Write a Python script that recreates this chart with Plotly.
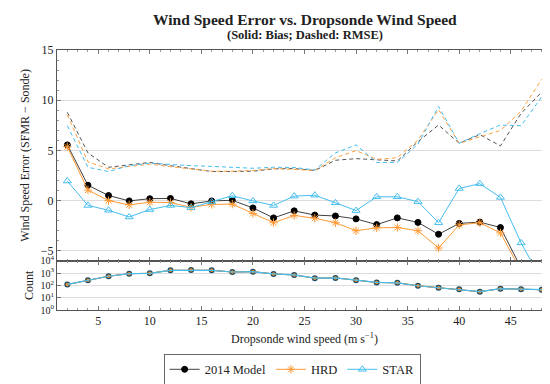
import plotly.graph_objects as go
from plotly.subplots import make_subplots

speed = [2, 4, 6, 8, 10, 12, 14, 16, 18, 20, 22, 24, 26, 28, 30, 32, 34, 36, 38, 40, 42, 44, 46, 48]

bias_model = [5.55, 1.53, 0.51, -0.03, 0.19, 0.22, -0.32, -0.03, 0.03, -0.73, -1.72, -1.02,
              -1.44, -1.53, -1.82, -2.39, -1.72, -2.17, -3.35, -2.27, -2.14, -2.68, -6.7, -9.0]
bias_hrd = [5.36, 1.05, 0.0, -0.42, -0.16, -0.19, -0.67, -0.38, -0.35, -1.28, -2.2, -1.48,
            -1.75, -2.2, -3.0, -2.71, -2.68, -3.0, -4.72, -2.42, -2.2, -3.22, -7.0, -9.5]
bias_star = [1.95, -0.48, -0.96, -1.63, -0.89, -0.48, -0.7, -0.13, 0.48, -0.03, -0.48, 0.45,
             0.54, -0.22, -0.99, 0.38, 0.38, -0.1, -2.2, 1.21, 1.69, 0.32, -4.21, -7.9]

rmse_model = [8.8, 4.75, 3.32, 3.54, 3.8, 3.48, 3.16, 2.9, 2.9, 2.93, 3.16, 3.19,
              3.0, 4.02, 4.18, 4.08, 3.95, 5.87, 7.53, 5.71, 6.57, 5.45, 8.68, 10.81]
rmse_hrd = [8.55, 3.86, 3.16, 3.38, 3.64, 3.38, 3.16, 2.93, 2.93, 3.0, 3.2, 3.1,
            3.0, 4.27, 4.98, 4.11, 4.27, 6.03, 9.06, 5.71, 6.35, 6.99, 8.9, 12.09]
rmse_star = [7.46, 3.32, 2.9, 3.48, 3.73, 3.57, 3.48, 3.41, 3.32, 3.22, 3.32, 3.3,
             3.06, 4.75, 5.55, 3.8, 3.8, 5.62, 9.38, 5.71, 6.67, 7.53, 7.46, 10.33]

count = [120, 270, 560, 910, 970, 1700, 1800, 1700, 1240, 1320, 860, 710,
         390, 410, 270, 174, 164, 94, 65, 48, 31, 54, 48, 45]

names = ["2014 Model", "HRD", "STAR"]
colors = ["#000000", "#ff9a35", "#45bdee"]
line_colors = ["#404040", "#ff9a35", "#45bdee"]
rmse_colors = ["#555555", "#ffa040", "#45bdee"]
symbols = ["circle", "asterisk-open", "triangle-up-open"]
msizes = [6, 7, 7]

FONT = "Liberation Serif"
TXT = "#222222"

fig = make_subplots(rows=2, cols=1, shared_xaxes=True, vertical_spacing=0.0,
                    row_heights=[0.811, 0.189])

for nm, b, r, c, lc, rc, s, ms in zip(names, [bias_model, bias_hrd, bias_star],
                                       [rmse_model, rmse_hrd, rmse_star],
                                       colors, line_colors, rmse_colors, symbols, msizes):
    fig.add_trace(go.Scatter(x=speed, y=r, mode="lines", showlegend=False,
                             line=dict(color=rc, width=1, dash="4px,3px")), row=1, col=1)
    fig.add_trace(go.Scatter(x=speed, y=b, mode="lines+markers", name=nm,
                             line=dict(color=lc, width=1),
                             marker=dict(symbol=s, size=ms, color=c,
                                         line=dict(color=c, width=1))), row=1, col=1)

fig.add_trace(go.Scatter(x=speed, y=count, mode="lines+markers", showlegend=False,
                         line=dict(color="#404040", width=1),
                         marker=dict(symbol="circle", size=6, color="#1d4d66")), row=2, col=1)
fig.add_trace(go.Scatter(x=speed, y=count, mode="lines+markers", showlegend=False,
                         line=dict(color="#ff9a35", width=1),
                         marker=dict(symbol="circle", size=3.5, color="#ff8a20")), row=2, col=1)
fig.add_trace(go.Scatter(x=speed, y=count, mode="lines", showlegend=False,
                         line=dict(color="#45bdee", width=1.2)), row=2, col=1)

axis_common = dict(showline=True, linecolor="#555555", linewidth=1, mirror="ticks",
                   ticks="inside", ticklen=4, tickcolor="#777777", zeroline=False)

fig.update_xaxes(range=[1, 49], tickvals=[5, 10, 15, 20, 25, 30, 35, 40, 45], showgrid=False,
                 tickfont=dict(family=FONT, size=12, color=TXT),
                 minor=dict(dtick=1, tick0=0, ticks="inside", ticklen=2, tickcolor="#999999"),
                 **axis_common)
fig.update_xaxes(showticklabels=False, row=1, col=1)
fig.update_xaxes(title=dict(text="Dropsonde wind speed (m s<sup>−1</sup>)",
                            font=dict(family=FONT, size=12, color=TXT), standoff=7),
                 row=2, col=1)

fig.update_yaxes(range=[-6, 15], tickvals=[-5, 0, 5, 10, 15], showgrid=True,
                 gridcolor="#dddddd", gridwidth=1,
                 tickfont=dict(family=FONT, size=12, color=TXT),
                 minor=dict(dtick=1, tick0=0, ticks="inside", ticklen=2, tickcolor="#999999"),
                 title=dict(text="Wind Speed Error (SFMR − Sonde)",
                            font=dict(family=FONT, size=12, color=TXT), standoff=8),
                 row=1, col=1, **axis_common)
fig.update_yaxes(type="log", range=[0, 4], tickvals=[1, 10, 100, 1000, 10000],
                 ticktext=["10<sup>0</sup>", "10<sup>1</sup>", "10<sup>2</sup>",
                           "10<sup>3</sup>", "10<sup>4</sup>"],
                 tickfont=dict(family=FONT, size=10, color=TXT),
                 showgrid=True, gridcolor="#dddddd",
                 title=dict(text="Count", font=dict(family=FONT, size=12, color=TXT),
                            standoff=4),
                 row=2, col=1, **axis_common)

fig.add_annotation(text="<b>Wind Speed Error vs. Dropsonde Wind Speed</b>",
                   xref="paper", yref="paper", x=0.5, y=1.118, xanchor="center",
                   yanchor="middle", showarrow=False,
                   font=dict(family=FONT, size=15.5, color=TXT))
fig.add_annotation(text="<b>(Solid: Bias; Dashed: RMSE)</b>",
                   xref="paper", yref="paper", x=0.5, y=1.058, xanchor="center",
                   yanchor="middle", showarrow=False,
                   font=dict(family=FONT, size=12.5, color=TXT))

fig.update_layout(
    width=550, height=384,
    margin=dict(l=49, r=6, t=42, b=72),
    paper_bgcolor="white", plot_bgcolor="white",
    legend=dict(orientation="h", x=0.475, xanchor="center", y=-0.168, yanchor="top",
                bordercolor="#666666", borderwidth=1, tracegroupgap=0,
                font=dict(family=FONT, size=12.5, color=TXT),
                itemwidth=30),
    showlegend=True,
)

fig.write_html("out.html")
